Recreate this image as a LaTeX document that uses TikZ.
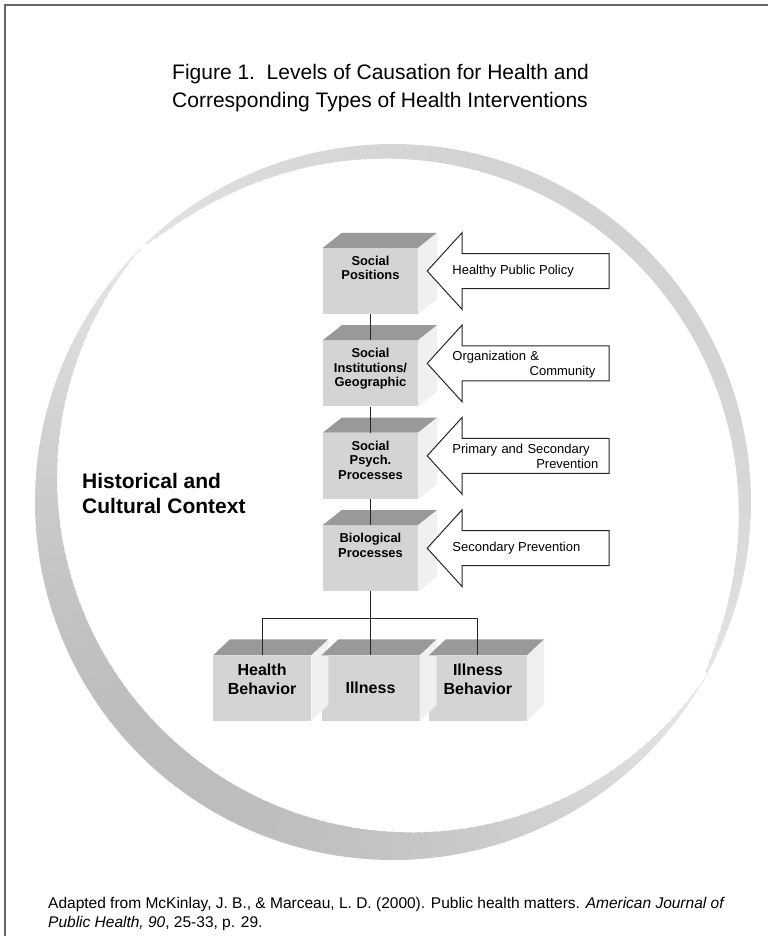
\documentclass[tikz,border=0pt]{standalone}
\usepackage{fontspec}
\setmainfont{Liberation Sans}
\usetikzlibrary{positioning}

\definecolor{frontgray}{gray}{0.83}
\definecolor{topgray}{gray}{0.6}
\definecolor{sidegray}{gray}{0.94}
\definecolor{framegray}{gray}{0.4}

\tikzset{
  levelbox/.style={fill=frontgray, minimum width=95pt, minimum height=66pt,
    inner sep=0pt, font=\bfseries\fontsize{12.9}{14.5}\selectfont},
  outcomebox/.style={fill=frontgray, minimum width=98pt, minimum height=65pt,
    inner sep=0pt, font=\bfseries\fontsize{16}{19}\selectfont},
  link/.style={draw=black!85, line width=1pt},
  policy/.style={draw=black!85, fill=white, line width=1pt, line join=miter},
  policytext/.style={anchor=west, inner sep=0pt, font=\fontsize{13}{15}\selectfont}
}

% text hung from the top of a block face
\newcommand{\toptext}[2]{\parbox[c][#1][t]{95pt}{\centering #2}}
% top and right faces of a block: node, depth x, depth y
\newcommand{\blockfaces}[3]{%
  \fill[topgray] (#1.north west) -- ++(#2,-#3) -- ([shift={(#2pt,#3pt)}]#1.north east) -- (#1.north east) -- cycle;
  \fill[sidegray] (#1.north east) -- ++(#2,-#3) -- ([shift={(#2pt,#3pt)}]#1.south east) -- (#1.south east) -- cycle;}
% wide arrow pointing left, tip at #1
\newcommand{\policyarrow}[1]{%
  \draw[policy] (#1) -- ++(35,-38.5) -- ++(0,21) -- ++(147,0) -- ++(0,35)
    -- ++(-147,0) -- ++(0,21) -- cycle;}

\begin{document}
\begin{tikzpicture}[x=1pt, y=-1pt]
\useasboundingbox (0,0) rectangle (768,936);
\draw[framegray, line width=1.3pt] (5,936) -- (5,5) -- (768,5);

\node[anchor=base west, align=left, inner sep=0pt, font=\fontsize{21}{27.5}\selectfont] (title) at (172,107.5)
  {Figure 1.\ \ Levels of Causation for Health and\\Corresponding Types of Health Interventions};

% the context ring
\begin{scope}[shift={(393,502)}, yscale=-1]
  \foreach \a in {0,1.5,...,358.5} {
    \pgfmathsetmacro{\u}{mod(\a+227,360)}
    \pgfmathsetmacro{\w}{\u<197 ? 34*sin(\u/197*180) : 17*sqrt(abs(sin((\u-197)/163*180)))}
    \pgfmathsetmacro{\r}{358-\w/2}
    \pgfmathsetmacro{\c}{9+0.5*\w}
    \draw[black!\c, line width=\w pt] (\a:\r) arc[start angle=\a, end angle=\a+1.7, radius=\r];
  }
\end{scope}

\node[anchor=base west, align=left, inner sep=0pt, font=\bfseries\fontsize{21}{25}\selectfont] (ctx) at (82,513)
  {Historical and\\Cultural Context};

% levels of causation
\node[levelbox] (sp) at (370.5,281) {\toptext{50pt}{Social\\Positions}};
\node[levelbox, below=26pt of sp] (si) {\toptext{50pt}{Social\\Institutions/\\Geographic}};
\node[levelbox, below=26pt of si] (sy) {\toptext{50pt}{Social\\Psych.\\Processes}};
\node[levelbox, below=26pt of sy] (bp) {\toptext{50pt}{Biological\\Processes}};
\node[outcomebox, below=64pt of bp] (il) {Illness};
\node[outcomebox, left=10pt of il] (hb) {\toptext{49pt}{Health\\Behavior}};
\node[outcomebox, right=9pt of il] (ib) {\toptext{49pt}{Illness\\Behavior}};
\foreach \b in {sp,si,sy,bp} {\blockfaces{\b}{19}{15}}
\foreach \b in {hb,il,ib} {\blockfaces{\b}{17}{16}}

\draw[link] (sp.south) -- (si.north);
\draw[link] (si.south) -- (sy.north);
\draw[link] (sy.south) -- (bp.north);
\coordinate (fork) at ([yshift=-27pt]bp.south);
\draw[link] (bp.south) -- (il.north);
\draw[link] (hb.north) |- (fork) -| (ib.north);

% interventions
\coordinate (a1) at ([shift={(9pt,10pt)}]sp.east);
\coordinate (a2) at ([shift={(9pt,10pt)}]si.east);
\coordinate (a3) at ([shift={(9pt,10pt)}]sy.east);
\coordinate (a4) at ([shift={(9pt,10pt)}]bp.east);
\foreach \t in {a1,a2,a3,a4} {\policyarrow{\t}}
\node[policytext] (hp) at ([xshift=25pt]a1) {Healthy Public Policy};
\node[policytext, text width=143pt, align=left] (oc) at ([shift={(25pt,-1pt)}]a2)
  {Organization \&\\\hspace*{\fill}Community};
\node[policytext, text width=146pt, align=left] (ps) at ([shift={(25pt,-1pt)}]a3)
  {Primary and Secondary\\\hspace*{\fill}Prevention};
\node[policytext] (sc) at ([xshift=25pt]a4) {Secondary Prevention};

\node[anchor=base west, align=left, inner sep=0pt, font=\fontsize{15.5}{19}\selectfont] (src) at (48,927)
  {Adapted from McKinlay, J. B., \& Marceau, L. D. (2000). Public health matters. \textit{American Journal of}\\
   \textit{Public Health, 90}, 25-33, p. 29.};
\end{tikzpicture}
\end{document}
